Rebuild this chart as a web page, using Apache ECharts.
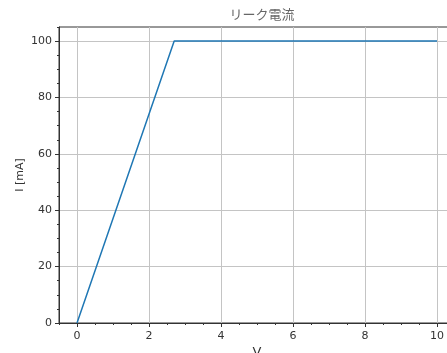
<!DOCTYPE html>
<html><head><meta charset="utf-8">
<script src="https://cdn.jsdelivr.net/npm/echarts@6/dist/echarts.min.js"></script>
<style>html,body{margin:0;padding:0;background:#fff}#c{width:447px;height:353px}</style>
</head><body><div id="c"></div>
<script>
const voltage = [0, 2.7, 10];
const current = [0, 100, 100];
const xTicks = [0, 2, 4, 6, 8, 10];
const xMinorTicks = [-0.5, 0, 0.5, 1, 1.5, 2, 2.5, 3, 3.5, 4, 4.5, 5, 5.5, 6, 6.5, 7, 7.5, 8, 8.5, 9, 9.5, 10, 10.5];
const yTicks = [0, 20, 40, 60, 80, 100];
const yMinorTicks = [0, 5, 10, 15, 20, 25, 30, 35, 40, 45, 50, 55, 60, 65, 70, 75, 80, 85, 90, 95, 100, 105];

const font = 'DejaVu Sans';
const chart = echarts.init(document.getElementById('c'));
const axisLine = {show: true, onZero: false, lineStyle: {color: '#333', width: 1}};
chart.setOption({
  animation: false,
  title: {text: 'リーク電流', left: 257, textAlign: 'center', top: 3,
    textStyle: {fontFamily: 'Noto Sans CJK JP', fontSize: 13, fontWeight: 'normal', color: '#666'}},
  grid: {left: 59, top: 27, right: -8, bottom: 30, show: true, borderColor: '#333', borderWidth: 1,
    containLabel: false, outerBoundsMode: 'none'},
  xAxis: [{
    type: 'value', min: -0.5, max: 10.5,
    name: 'V', nameLocation: 'middle', nameGap: 23, nameMoveOverlap: false,
    nameTextStyle: {fontFamily: font, fontSize: 13, color: '#333', verticalAlign: 'top'},
    axisLine: axisLine,
    axisTick: {show: true, length: 4, customValues: xTicks, lineStyle: {color: '#333'}},
    axisLabel: {customValues: xTicks, fontFamily: font, fontSize: 11, color: '#333', margin: 8},
    splitLine: {show: true, lineStyle: {color: '#c4c4c4', width: 1}}
  }, {
    type: 'value', min: -0.5, max: 10.5, position: 'bottom',
    axisLine: {show: false, onZero: false},
    axisTick: {show: true, length: 2, customValues: xMinorTicks, lineStyle: {color: '#333'}},
    axisLabel: {show: false},
    splitLine: {show: false}
  }],
  yAxis: [{
    type: 'value', min: 0, max: 105,
    name: 'I [mA]', nameLocation: 'middle', nameGap: 39, nameRotate: 90, nameMoveOverlap: false,
    nameTextStyle: {fontFamily: font, fontSize: 11, color: '#333', verticalAlign: 'middle'},
    axisLine: axisLine,
    axisTick: {show: true, length: 4, customValues: yTicks, lineStyle: {color: '#333'}},
    axisLabel: {customValues: yTicks, fontFamily: font, fontSize: 11, color: '#333', margin: 7},
    splitLine: {show: true, lineStyle: {color: '#c4c4c4', width: 1}}
  }, {
    type: 'value', min: 0, max: 105, position: 'left',
    axisLine: {show: false, onZero: false},
    axisTick: {show: true, length: 2, customValues: yMinorTicks, lineStyle: {color: '#333'}},
    axisLabel: {show: false},
    splitLine: {show: false}
  }],
  series: [{
    type: 'line', xAxisIndex: 0, yAxisIndex: 0,
    data: voltage.map((v, i) => [v, current[i]]),
    showSymbol: false, symbol: 'none',
    lineStyle: {color: '#1f77b4', width: 1.5}
  }]
});
</script></body></html>
